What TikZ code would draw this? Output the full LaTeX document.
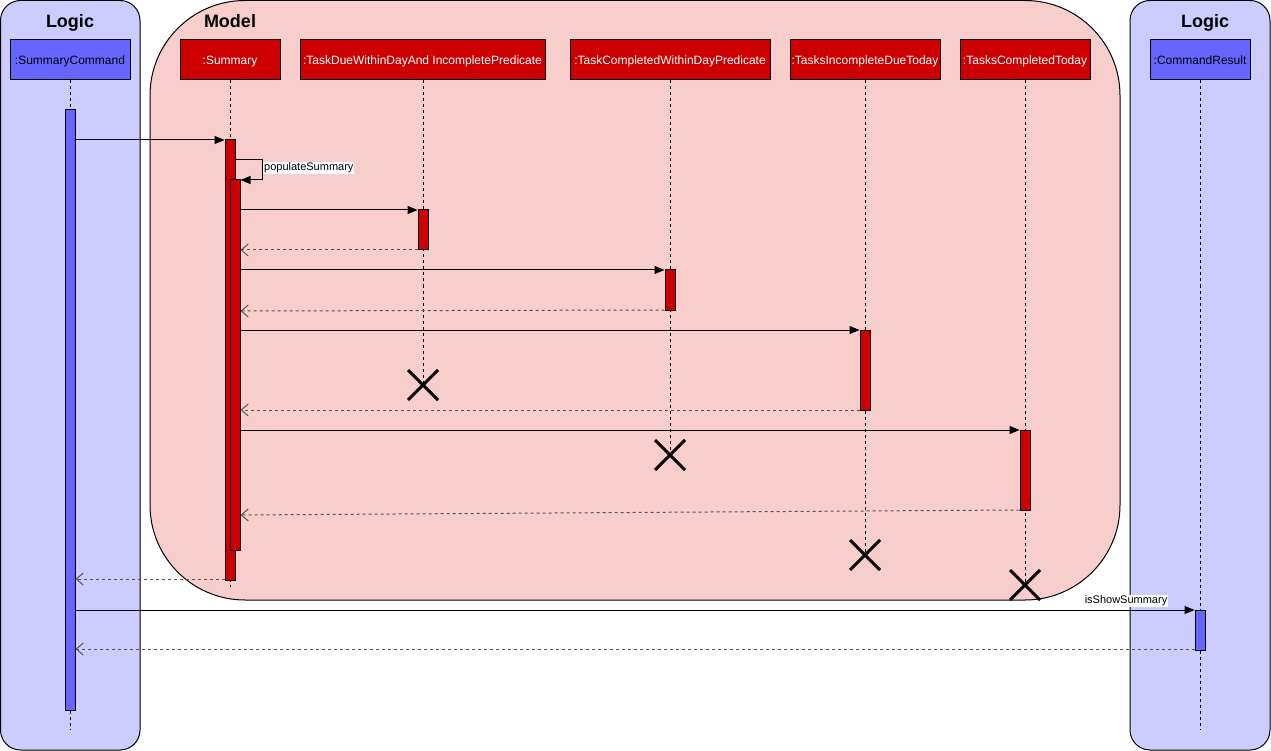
\documentclass[tikz,border=0pt]{standalone}
\usepackage{fontspec}
\setmainfont{Liberation Sans}
\usetikzlibrary{arrows.meta,positioning}
\definecolor{logicbg}{HTML}{CCCCFF}
\definecolor{modelbg}{HTML}{F8CECC}
\definecolor{bluebox}{HTML}{6666FF}
\definecolor{redbox}{HTML}{CC0000}
\definecolor{retgray}{HTML}{555555}
\tikzset{
  frame/.style={draw=black, line width=1pt},
  title/.style={font=\fontsize{18}{20}\selectfont\bfseries, inner sep=0pt, text height=13pt, text depth=0pt},
  headblue/.style={draw=black, line width=1pt, fill=bluebox, minimum height=40pt, inner sep=0pt, text height=8.6pt, text depth=0pt, font=\fontsize{12}{14}\selectfont, text=black},
  headred/.style={draw=black, line width=1pt, fill=redbox, minimum height=40pt, inner sep=0pt, text height=8.6pt, text depth=0pt, font=\fontsize{12}{14}\selectfont, text=white},
  actblue/.style={draw=black, line width=1pt, fill=bluebox, minimum width=10pt, inner sep=0pt},
  actred/.style={draw=black, line width=1pt, fill=redbox, minimum width=10pt, inner sep=0pt},
  life/.style={draw=black, line width=1pt, dash pattern=on 3pt off 3pt},
  call/.style={draw=black, line width=1pt, -{Triangle[length=10pt,width=8pt]}},
  ret/.style={draw=retgray, line width=1pt, dash pattern=on 3pt off 3pt, -{Straight Barb[length=7pt,width=12pt,line width=1pt]}},
  msglabel/.style={fill=white, inner sep=1pt, font=\fontsize{11}{13}\selectfont},
  killx/.style={draw=black, line width=3pt},
}
\begin{document}
\begin{tikzpicture}[x=1pt,y=-1pt]
\useasboundingbox (0,0) rectangle (1271,751);
% frames
\path[frame, fill=logicbg, rounded corners=20pt] (0.5,0.5) rectangle (140,750);
\path[frame, fill=modelbg, rounded corners=95pt] (150,0.5) rectangle (1120,600);
\path[frame, fill=logicbg, rounded corners=20pt] (1130,0.5) rectangle (1270,750);
\node[title] (tl1) at (70,21) {Logic};
\node[title] (tm) at (230,21) {Model};
\node[title] (tl2) at (1205,21) {Logic};
% heads
\node[headblue, minimum width=120pt] (sc) at (70,60) {:SummaryCommand};
\node[headred, minimum width=100pt] (su) at (230,60) {:Summary};
\node[headred, minimum width=245pt] (p1) at (422.5,60) {:TaskDueWithinDayAnd IncompletePredicate};
\node[headred, minimum width=200pt] (p2) at (670,60) {:TaskCompletedWithinDayPredicate};
\node[headred, minimum width=150pt] (t1) at (865,60) {:TasksIncompleteDueToday};
\node[headred, minimum width=130pt] (t2) at (1025,60) {:TasksCompletedToday};
\node[headblue, minimum width=100pt] (cr) at (1200,60) {:CommandResult};
% lifeline ends
\coordinate (scend) at (70,730);
\coordinate (suend) at (230,587);
\coordinate (p1end) at (423,385);
\coordinate (p2end) at (670,455);
\coordinate (t1end) at (865,555);
\coordinate (t2end) at (1025,585);
\coordinate (crend) at (1200,730);
\path[life] (sc.south) -- (scend);
\path[life] (su.south) -- (suend);
\path[life] (p1.south -| p1end) -- (p1end);
\path[life] (p2.south) -- (p2end);
\path[life] (t1.south) -- (t1end);
\path[life] (t2.south) -- (t2end);
\path[life] (cr.south) -- (crend);
% activations
\node[actblue, minimum height=600pt] (asc) at (70,410) {};
\node[actred, minimum height=440pt] (asu) at (230,360) {};
\node[actred, minimum height=370pt] (asu2) at (235,365) {};
\node[actred, minimum height=40pt] (ap1) at (423,230) {};
\node[actred, minimum height=40pt] (ap2) at (670,290) {};
\node[actred, minimum height=80pt] (at1) at (865,370) {};
\node[actred, minimum height=80pt] (at2) at (1025,470) {};
\node[actblue, minimum height=40pt] (acr) at (1200,630) {};
% destroy marks
\path[killx] ([shift={(-15,-15)}]p1end) -- ([shift={(15,15)}]p1end) ([shift={(15,-15)}]p1end) -- ([shift={(-15,15)}]p1end);
\path[killx] ([shift={(-15,-15)}]p2end) -- ([shift={(15,15)}]p2end) ([shift={(15,-15)}]p2end) -- ([shift={(-15,15)}]p2end);
\path[killx] ([shift={(-15,-15)}]t1end) -- ([shift={(15,15)}]t1end) ([shift={(15,-15)}]t1end) -- ([shift={(-15,15)}]t1end);
\path[killx] ([shift={(-15,-15)}]t2end) -- ([shift={(15,15)}]t2end) ([shift={(15,-15)}]t2end) -- ([shift={(-15,15)}]t2end);
% messages
\path[call] (asc.east |- 0,140) -- (asu.west |- 0,140);
\path[call] (asu.east |- 0,160) -- (262,160) -- (262,180) -- (asu2.east |- 0,180);
\node[msglabel, anchor=west] (lpop) at (263,168) {populateSummary};
\path[call] (asu2.east |- 0,210) -- (ap1.west |- 0,210);
\path[ret] (ap1.west |- 0,250) -- (asu2.east |- 0,250);
\path[call] (asu2.east |- 0,270) -- (ap2.west |- 0,270);
\path[ret] (ap2.west |- 0,310) -- (asu2.east |- 0,311);
\path[call] (asu2.east |- 0,330) -- (at1.west |- 0,330);
\path[ret] (at1.west |- 0,410) -- (asu2.east |- 0,410);
\path[call] (asu2.east |- 0,430) -- (at2.west |- 0,430);
\path[ret] (at2.west |- 0,510) -- (asu2.east |- 0,515);
\path[ret] (asu.west |- 0,579) -- (asc.east |- 0,579);
\path[call] (asc.east |- 0,610) -- (acr.west |- 0,610);
\node[msglabel] (lshow) at (1126,601) {isShowSummary};
\path[ret] (acr.west |- 0,649) -- (asc.east |- 0,649);
\end{tikzpicture}
\end{document}
